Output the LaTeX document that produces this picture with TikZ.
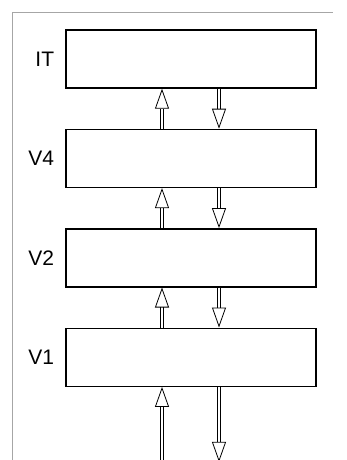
\documentclass[tikz,border=0pt]{standalone}
\usepackage{fontspec}
\setmainfont{Liberation Sans}
\usetikzlibrary{arrows.meta,positioning}
\tikzset{
  >=Latex,
  every node/.style={text=black},
  layer/.style={draw,line width=1.4pt,minimum width=250pt,minimum height=58pt,inner sep=0pt},
  tag/.style={font=\fontsize{21}{24}\selectfont,inner sep=0pt},
  hollow/.style={-{Triangle[open,length=20pt,width=14pt,line width=0.8pt]},double,double distance=2pt,line width=0.75pt,shorten >=0pt},
  frame/.style={draw=black!35,line width=0.9pt},
}

\begin{document}
\begin{tikzpicture}[node distance=40pt and 11pt]
\useasboundingbox (0pt,0pt) rectangle (347pt,-460pt);

% scan frame
\coordinate (fa) at (12pt,-460pt);
\coordinate (fb) at (12pt,-12pt);
\coordinate (fc) at (333pt,-12pt);
\draw[frame] (fa) -- (fb) -- (fc);

% layers
\node[layer] (it) at (191pt,-59pt) {};
\node[layer,below=of it] (v4) {};
\node[layer,below=of v4] (v2) {};
\node[layer,below=of v2] (v1) {};

\node[tag,left=of it] {IT};
\node[tag,left=of v4] {V4};
\node[tag,left=of v2] {V2};
\node[tag,left=of v1] {V1};

% feedforward / feedback
\foreach \lo/\hi in {v4/it,v2/v4,v1/v2}{
  \draw[hollow] ([xshift=-29pt]\lo.north) -- ([xshift=-29pt]\hi.south);
  \draw[hollow] ([xshift=28pt]\hi.south) -- ([xshift=28pt]\lo.north);
}

% input / output
\coordinate (in) at ([shift={(-29pt,-75pt)}]v1.south);
\coordinate (out) at ([shift={(28pt,-75pt)}]v1.south);
\draw[hollow] (in) -- ([xshift=-29pt]v1.south);
\draw[hollow] ([xshift=28pt]v1.south) -- (out);

\end{tikzpicture}
\end{document}
